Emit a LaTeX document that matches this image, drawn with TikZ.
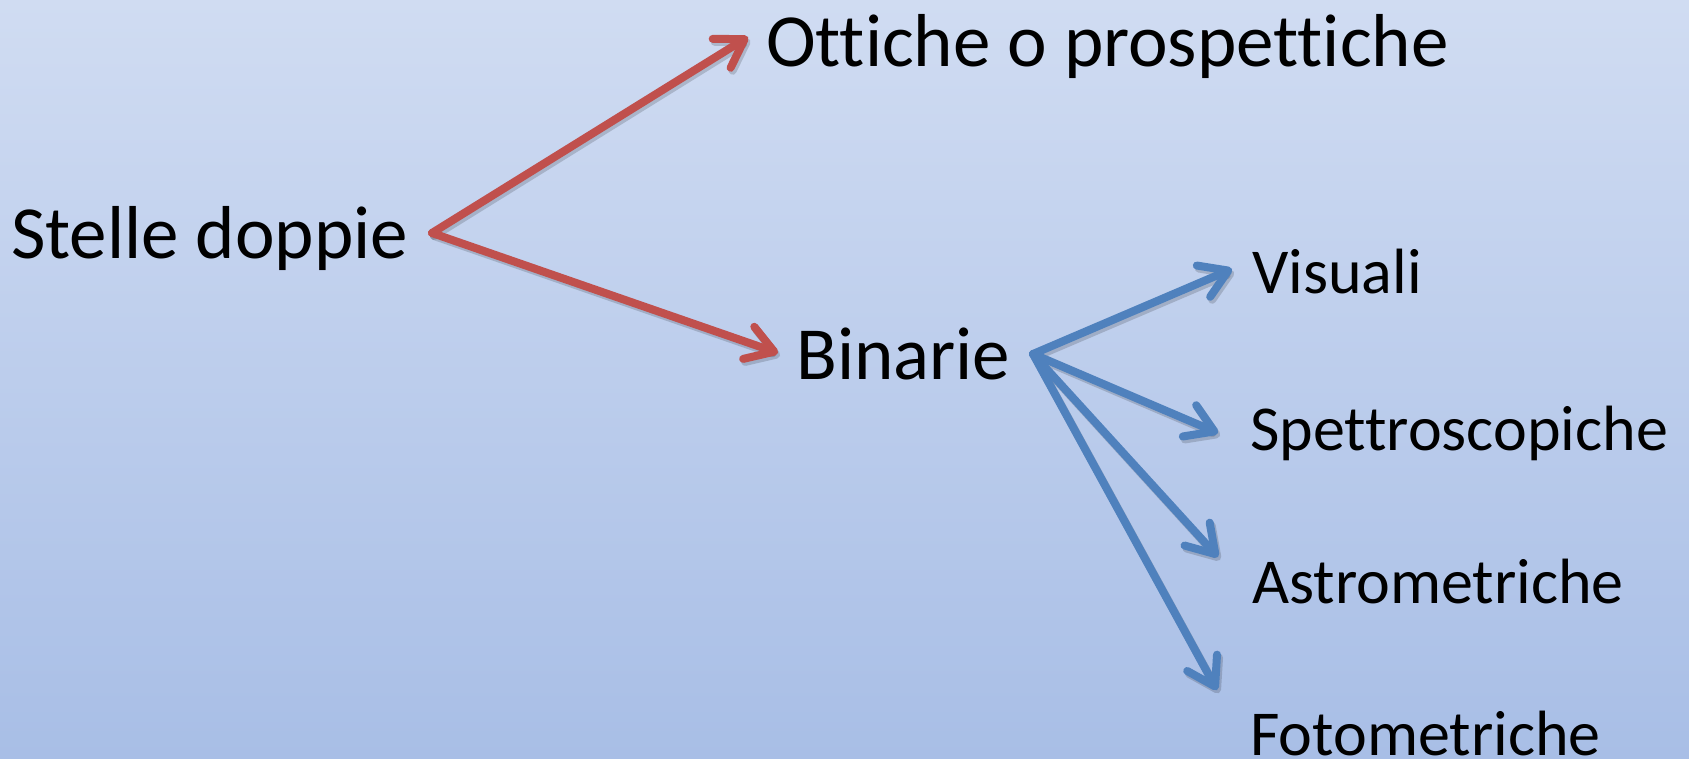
\documentclass[tikz,border=0pt]{standalone}
\usepackage{fontspec}
\setmainfont{Carlito}[Ligatures=NoCommon]
\usetikzlibrary{arrows.meta}
\definecolor{bgtop}{RGB}{208,220,242}
\definecolor{bgbot}{RGB}{168,190,230}
\definecolor{redarrow}{RGB}{192,80,77}
\definecolor{bluearrow}{RGB}{79,129,189}
\tikzset{
  big/.style={anchor=base west, inner sep=0pt, font=\fontsize{75}{90}\selectfont},
  small/.style={anchor=base west, inner sep=0pt, font=\fontsize{64}{77}\selectfont},
  link/.style={line width=8pt, line cap=round,
    -{Straight Barb[length=27pt,width=34pt,line cap=round,line join=round]}},
  linkshadow/.style={link, draw=black, draw opacity=0.16,
    transform canvas={shift={(2pt,-3pt)}}},
}
\begin{document}
\begin{tikzpicture}[x=1pt,y=-1pt]
  % background
  \shade[top color=bgtop, bottom color=bgbot] (0,0) rectangle (1689,759);
  \useasboundingbox (0,0) rectangle (1689,759);

  % labels
  \node[big]   (sd)  at (11,259)   {Stelle doppie};
  \node[big]   (ott) at (766,67)   {Ottiche o prospettiche};
  \node[big]   (bin) at (796,379)  {Binarie};
  \node[small] (vis) at (1252,294) {Visuali};
  \node[small] (spe) at (1250,450) {Spettroscopiche};
  \node[small] (ast) at (1252,603) {Astrometriche};
  \node[small] (fot) at (1250,755) {Fotometriche};

  % connector end points
  \coordinate (sdout)  at (432,233);
  \coordinate (ottin)  at (748,37);
  \coordinate (binin)  at (778,353);
  \coordinate (binout) at (1033,354);
  \coordinate (visin)  at (1232,269);
  \coordinate (spein)  at (1218,433);
  \coordinate (astin)  at (1218,557);
  \coordinate (fotin)  at (1217,690);

  % soft shadows
  \foreach \a/\b in {sdout/ottin, sdout/binin, binout/visin, binout/spein, binout/astin, binout/fotin}
    \draw[linkshadow] (\a) -- (\b);

  % connectors
  \draw[link, draw=redarrow]  (sdout) -- (ottin);
  \draw[link, draw=redarrow]  (sdout) -- (binin);
  \draw[link, draw=bluearrow] (binout) -- (visin);
  \draw[link, draw=bluearrow] (binout) -- (spein);
  \draw[link, draw=bluearrow] (binout) -- (astin);
  \draw[link, draw=bluearrow] (binout) -- (fotin);
\end{tikzpicture}
\end{document}
